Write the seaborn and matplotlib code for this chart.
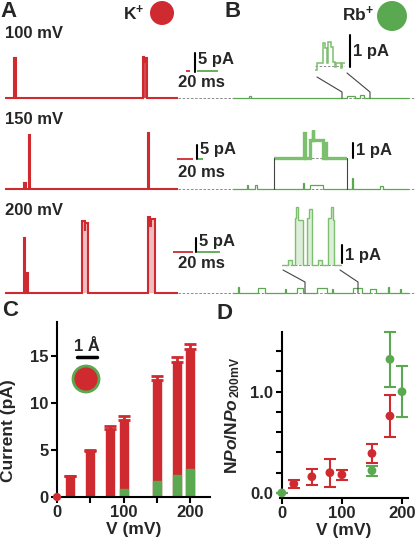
import numpy as np
import matplotlib
matplotlib.use("Agg")
import matplotlib.pyplot as plt
import seaborn as sns
from matplotlib.patches import Circle

sns.set_theme(style="ticks")
plt.rcParams['font.family'] = ['Liberation Sans', 'DejaVu Sans']
plt.rcParams['font.weight'] = 'bold'
plt.rcParams['axes.labelweight'] = 'bold'
plt.rcParams['mathtext.fontset'] = 'custom'
plt.rcParams['mathtext.rm'] = 'Liberation Sans:bold'
plt.rcParams['mathtext.bf'] = 'Liberation Sans:bold'
plt.rcParams['mathtext.it'] = 'Liberation Sans:italic:bold'
plt.rcParams['mathtext.sf'] = 'Liberation Sans'

RED = "#cf2a30"
GREEN = "#5aa84f"
LIGHT_GREEN = "#7cbf6e"

# ---- single channel traces: transition times (ms) and current level (pA) after each
k100_t = [0, 40, 47, 614, 620, 623, 632]
k100_i = [0, 10.5, 0, 10.8, 9.5, 10.6, 0]
k150_t = [0, 24, 26, 30, 31.5, 178.5, 180]
k150_i = [0, 2.0, 0, 19.3, 0, 20.0, 0]
k200_t = [0, 19, 19.7, 22, 22.5, 77, 79.5, 80, 82.5, 143, 145, 145.5, 150]
k200_i = [0, 19.6, 0, 7.0, 0, 25.7, 22.0, 25.0, 0, 27.0, 24.0, 26.5, 0]

rb100_t = [0, 15, 17, 108, 116, 121, 124]
rb100_i = [0, 0.6, 0, 0.4, 0, 0.7, 0]
rb150_t = [0, 56, 60, 88, 96, 280, 282, 308, 360, 476, 478, 588, 600]
rb150_i = [0, 1.5, 0, 1.5, 0, 2.0, 0, 1.3, 0, 3.8, 0, 1.0, 0]
rb200_t = [0, 4, 4.8, 22, 28, 45, 46, 56, 61, 73, 82, 86, 87, 104, 112, 119, 124, 135, 136, 145, 146]
rb200_i = [0, 2.2, 0, 1.8, 0, 1.5, 0, 1.8, 0, 1.8, 0, 1.6, 0, 1.8, 0, 1.6, 0, 2.0, 0, 1.6, 0]

# zoomed views of the Rb+ traces
rb100z_t = [0, 1.8, 7.2, 9, 10.8, 11.7, 14.4, 16.2, 18, 19, 23.4, 24.3]
rb100z_i = [-0.12, 0.1, 0.72, 0.55, 0.1, 0.75, 0.6, 0.12, -0.02, 0.1, -0.05, 0.1]
rb150z_t = [164, 284, 286, 308, 318, 321, 361, 368, 370]
rb150z_i = [0, 1.65, 0, 1.2, 1.9, 1.2, 0, 1.0, 0]
rb200z_t = [0, 4.6, 7.7, 10, 11, 12, 16.2, 19.3, 20.5, 23.1, 27.7, 30.8, 35.4, 38, 39, 40]
rb200z_i = [0, 0.3, 0, 2.6, 3.2, 2.5, 0, 2.6, 3.1, 0, 0.3, 0, 2.6, 3.2, 2.5, 0]

# ---- panel C: unitary current (pA)
volts_k = [20, 50, 80, 100, 150, 180, 200]
current_k = [2.2, 4.9, 7.2, 8.2, 12.4, 14.4, 15.7]
current_k_err = [0, 0.1, 0.35, 0.45, 0.5, 0.5, 0.6]
volts_rb = [100, 150, 180, 200]
current_rb = [0.9, 1.7, 2.3, 3.0]

# ---- panel D: NPo / NPo(200 mV)
npo_volts_k = [20, 50, 80, 100, 150, 180]
npo_k = [0.09, 0.16, 0.2, 0.18, 0.39, 0.76]
npo_k_err = [0.04, 0.08, 0.14, 0.05, 0.09, 0.21]
npo_volts_rb = [0, 150, 180, 200]
npo_rb = [0.0, 0.22, 1.32, 1.0]
npo_rb_err = [0, 0.05, 0.27, 0.25]

W, H = 416, 545
fig = plt.figure(figsize=(W / 100, H / 100), dpi=100)


def px_rect(x0, y0, x1, y1):
    return [x0 / W, 1 - y1 / H, (x1 - x0) / W, (y1 - y0) / H]


def trace_axes(x0, x1, xstart, base, top, mspp, papx, pad=6):
    ax = fig.add_axes(px_rect(x0, top, x1, base + pad))
    ax.set_xlim((x0 - xstart) * mspp, (x1 - xstart) * mspp)
    ax.set_ylim(-pad / papx, (base - top) / papx)
    ax.axis('off')
    return ax


def draw_trace(ax, t, i, t_end, color, lw, fill=0.0):
    tt = list(t) + [t_end]
    ii = list(i) + [i[-1]]
    ax.step(tt, ii, where='post', color=color, lw=lw, solid_joinstyle='miter')
    if fill:
        ax.fill_between(tt, 0, ii, step='post', color=color, alpha=fill, lw=0)


# rows: baseline px, top px, ms/px and px/pA for A and B
rows = [
    dict(base=98, top=48, a_mspp=4.45, b_mspp=0.95, papx=3.8, k=(k100_t, k100_i), rb=(rb100_t, rb100_i)),
    dict(base=189, top=128, a_mspp=1.25, b_mspp=4.0, papx=2.8, k=(k150_t, k150_i), rb=(rb150_t, rb150_i)),
    dict(base=293, top=212, a_mspp=1.0, b_mspp=0.87, papx=2.8, k=(k200_t, k200_i), rb=(rb200_t, rb200_i)),
]

for n, r in enumerate(rows):
    axa = trace_axes(5, 178, 5, r['base'], r['top'], r['a_mspp'], r['papx'])
    draw_trace(axa, *r['k'], 173 * r['a_mspp'], RED, 1.5, fill=0.85 if n == 0 else 0.3)
    axb = trace_axes(178, 416, 233, r['base'], r['base'] - 20, r['b_mspp'], r['papx'])
    axb.axhline(0, color='#777777', lw=0.6, ls=(0, (3, 2)))
    draw_trace(axb, *r['rb'], 175 * r['b_mspp'], GREEN, 0.9)

# zoom insets
ins1 = trace_axes(315, 345, 315, 66, 38, 0.9, 32)
ins1.axhline(0, color='#777777', lw=0.6, ls=(0, (3, 2)))
draw_trace(ins1, rb100z_t, rb100z_i, 27, LIGHT_GREEN, 1.1)
ins2 = trace_axes(274, 347, 233, 158, 125, 4.0, 15)
ins2.axhline(0, color='#777777', lw=0.6, ls=(0, (3, 2)))
draw_trace(ins2, rb150z_t, rb150z_i, 456, LIGHT_GREEN, 2.4)
ins3 = trace_axes(282, 342, 282, 265, 203, 0.77, 18)
ins3.axhline(0, color='#777777', lw=0.6, ls=(0, (3, 2)))
draw_trace(ins3, rb200z_t, rb200z_i, 46, LIGHT_GREEN, 1.0, fill=0.25)

# ---- panel C
axc = fig.add_axes(px_rect(57, 322, 210, 497))
sns.barplot(x=volts_k, y=current_k, native_scale=True, width=0.6, color=RED,
            saturation=1, errorbar=None, ax=axc, edgecolor=RED, linewidth=1)
axc.errorbar(volts_k, current_k, yerr=[np.zeros(len(current_k_err)), current_k_err],
             fmt='none', ecolor=RED, elinewidth=2, capsize=4, capthick=2)
sns.barplot(x=volts_rb, y=current_rb, native_scale=True, width=0.6, color=GREEN,
            saturation=1, errorbar=None, ax=axc, edgecolor=GREEN, linewidth=1)
sns.scatterplot(x=[0], y=[0], color=RED, s=35, ax=axc, clip_on=False, zorder=5, edgecolor='none')
axc.set_xlim(0, 230)
axc.set_ylim(0, 18.6)
axc.set_xticks([0, 50, 100, 150, 200])
axc.set_xticklabels(['0', '', '100', '', '200'])
axc.set_yticks([0, 5, 10, 15])
axc.set_xlabel('V (mV)', fontsize=12.5, labelpad=1)
axc.set_ylabel('Current (pA)', fontsize=12.5, labelpad=4)
axc.yaxis.set_label_coords(-0.27, 0.38)

# ---- panel D
axd = fig.add_axes(px_rect(280, 332, 408, 498))
axd.errorbar(npo_volts_k, npo_k, yerr=npo_k_err, fmt='none', ecolor=RED,
             elinewidth=1.5, capsize=4, capthick=1.5, clip_on=False)
axd.errorbar(npo_volts_rb, npo_rb, yerr=npo_rb_err, fmt='none', ecolor=GREEN,
             elinewidth=1.5, capsize=4, capthick=1.5, clip_on=False)
sns.scatterplot(x=npo_volts_k, y=npo_k, color=RED, s=40, edgecolor='none', ax=axd,
                clip_on=False, zorder=4)
sns.scatterplot(x=npo_volts_rb, y=npo_rb, color=GREEN, s=40, edgecolor='none', ax=axd,
                clip_on=False, zorder=4)
axd.set_xlim(-3, 210)
axd.set_ylim(-0.05, 1.59)
axd.spines['left'].set_position(('data', 0))
axd.spines['left'].set_bounds(0, 1.59)
axd.set_xticks([0, 100, 200])
axd.set_yticks([0, 0.2, 0.4, 0.6, 0.8, 1.0, 1.2, 1.4])
axd.set_yticklabels(['0.0', '', '', '', '', '1.0', '', ''])
axd.set_xlabel('V (mV)', fontsize=12.5, labelpad=1)
axd.set_ylabel(r"$\mathrm{N}\mathit{Po}\mathrm{/N}\mathit{Po}_{\,\mathsf{200mV}}$", fontsize=12.5)
axd.yaxis.set_label_coords(-0.30, 0.5)

for ax in (axc, axd):
    sns.despine(ax=ax)
    for s in ('left', 'bottom'):
        ax.spines[s].set_linewidth(1.5)
        ax.spines[s].set_color('black')
    ax.tick_params(width=1.5, length=4, labelsize=12, pad=2, color='black')

# ---- overlay for labels, scale bars and symbols (pixel coordinates)
ov = fig.add_axes([0, 0, 1, 1])
ov.set_xlim(0, W)
ov.set_ylim(H, 0)
ov.axis('off')
ov.patch.set_alpha(0)

for x, y, s in [(0, 1, 'A'), (224, 1, 'B'), (2, 300, 'C'), (217, 303, 'D')]:
    ov.text(x, y, s, fontsize=16, fontweight='bold', va='top', ha='left')

for y, s in [(38, '100 mV'), (124, '150 mV'), (215, '200 mV')]:
    ov.text(5, y, s, fontsize=12, va='baseline', ha='left')

ov.text(123, 20, r"K$^{\mathbf{+}}$", fontsize=12.5, va='baseline', ha='left')
ov.add_patch(Circle((162, 13), 12, color=RED, lw=0))
ov.text(342, 21, r"Rb$^{\mathbf{+}}$", fontsize=12.5, va='baseline', ha='left')
ov.add_patch(Circle((392, 16), 15, color=GREEN, lw=0))

# scale bars: 20 ms for K+ (red) and Rb+ (green), 5 pA vertical
bar_pos = [(190, 195, 197, 71, 64, 87), (193, 197, 198, 158.5, 154, 177), (193, 196, 197, 251.5, 246, 268)]
for r, (red_end, vx, g_start, yb, ytxt, ymstxt) in zip(rows, bar_pos):
    red_len = 20 / r['a_mspp']
    green_len = 20 / r['b_mspp']
    ov.plot([red_end - red_len, red_end], [yb, yb], color=RED, lw=1.3, solid_capstyle='butt')
    ov.plot([g_start, g_start + green_len], [yb, yb], color=GREEN, lw=1.3, solid_capstyle='butt')
    ov.plot([vx, vx], [yb + 0.5, yb + 0.5 - 5 * r['papx']], color='black', lw=1.5)
    ov.text(vx + 3, ytxt, '5 pA', fontsize=12, va='baseline', ha='left')
    ov.text(201, ymstxt, '20 ms', fontsize=12, va='baseline', ha='center')

# 1 pA bars of the insets
for vx, y0, papx, ytxt in [(350, 67, 32, 56), (353, 158, 15, 155), (342, 263, 18, 260)]:
    ov.plot([vx, vx], [y0, y0 - papx], color='black', lw=1.5)
    ov.text(vx + 3, ytxt, '1 pA', fontsize=12, va='baseline', ha='left')

# lines linking insets to traces
link = dict(color='#444444', lw=0.8)
ov.plot([317, 342, 342], [77, 92, 98], **link)
ov.plot([347, 370, 370], [73, 92, 98], **link)
ov.plot([274, 274], [158, 189], **link)
ov.plot([347, 347], [158, 189], **link)
ov.plot([283, 305, 305], [270, 282, 293], **link)
ov.plot([340, 358, 358], [270, 282, 293], **link)

# Angstrom scale and ion size symbol in C
ov.text(87, 351, '1 Å', fontsize=12, va='baseline', ha='center')
ov.plot([77, 97], [357, 357], color='black', lw=2.5)
ov.add_patch(Circle((86, 379), 13, facecolor=RED, edgecolor=GREEN, lw=2))

fig.savefig('out.png', dpi=100)
